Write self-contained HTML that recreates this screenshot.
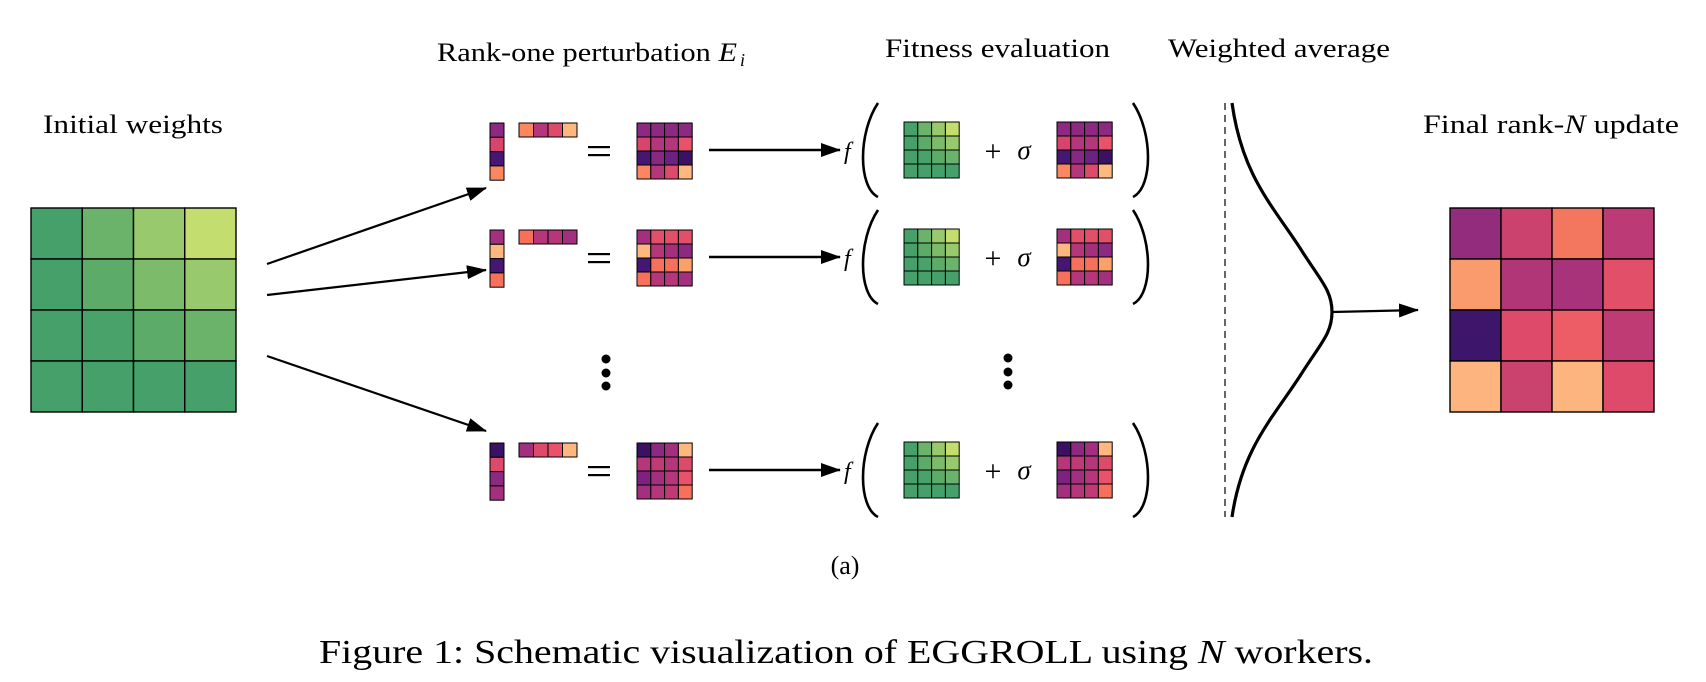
<!DOCTYPE html>
<html><head><meta charset="utf-8"><style>html,body{margin:0;padding:0;background:#fff}svg{display:block}text{font-family:"Liberation Serif",serif;fill:#000}</style></head>
<body>
<svg id="s" width="1706" height="682" viewBox="0 0 1706 682" xmlns="http://www.w3.org/2000/svg">
<defs>
<marker id="ah2" markerWidth="20" markerHeight="14" refX="19" refY="7" orient="auto" markerUnits="userSpaceOnUse" viewBox="0 0 20 14"><path d="M0,0 L20,7 L0,14 z" fill="#000"/></marker></defs>
<text x="43" y="133" font-size="26" textLength="180" lengthAdjust="spacingAndGlyphs">Initial weights</text>
<text x="437" y="61" font-size="26" textLength="300" lengthAdjust="spacingAndGlyphs">Rank-one perturbation <tspan font-style="italic">E</tspan></text>
<text x="740" y="66" font-size="18" font-style="italic">i</text>
<text x="885" y="57" font-size="26" textLength="225" lengthAdjust="spacingAndGlyphs">Fitness evaluation</text>
<text x="1168" y="57" font-size="26" textLength="222" lengthAdjust="spacingAndGlyphs">Weighted average</text>
<text x="1423" y="133" font-size="26" textLength="256" lengthAdjust="spacingAndGlyphs">Final rank-<tspan font-style="italic">N</tspan> update</text>
<text x="845" y="574" font-size="26" text-anchor="middle">(a)</text>
<text x="319" y="663" font-size="34" textLength="1054" lengthAdjust="spacingAndGlyphs">Figure 1: Schematic visualization of EGGROLL using <tspan font-style="italic">N</tspan> workers.</text>
<g stroke="#000" stroke-width="2.2" fill="none">
<line x1="267" y1="264" x2="486" y2="188" marker-end="url(#ah2)"/>
<line x1="267" y1="295" x2="486" y2="270" marker-end="url(#ah2)"/>
<line x1="267" y1="356" x2="486" y2="431" marker-end="url(#ah2)"/>
<line x1="1332" y1="312" x2="1418" y2="310" marker-end="url(#ah2)"/>
<line x1="1225" y1="103" x2="1225" y2="517" stroke-width="1.2" stroke-dasharray="7,5"/>
</g>
<path d="M1232,103 C1242,175 1272,205 1300,248 C1320,280 1332,290 1332,312 C1332,334 1320,344 1300,376 C1272,419 1242,449 1232,517" fill="none" stroke="#000" stroke-width="3.2"/>
<g id="cells"></g>
<g fill="#000">
<circle cx="606" cy="359" r="4.5"/><circle cx="606" cy="373" r="4.5"/><circle cx="606" cy="386" r="4.5"/>
<circle cx="1008" cy="358" r="4.5"/><circle cx="1008" cy="372" r="4.5"/><circle cx="1008" cy="385" r="4.5"/>
</g>
</svg>
<script>
(function(){
var g=document.getElementById('cells'),NS='http://www.w3.org/2000/svg';
function el(t,a){var e=document.createElementNS(NS,t);for(var k in a)e.setAttribute(k,a[k]);g.appendChild(e);return e;}
function grid(x,y,cw,ch,rows,sw){for(var r=0;r<rows.length;r++)for(var c=0;c<rows[r].length;c++)el('rect',{x:x+c*cw,y:y+r*ch,width:cw,height:ch,fill:rows[r][c],stroke:'#000','stroke-width':sw});}
var G=[['#45a06a','#6bb36a','#98c96c','#c3de6f'],['#45a06a','#5dab69','#7bbb6a','#98c96c'],['#45a06a','#48a26a','#5dab69','#6bb36a'],['#45a06a','#45a06a','#45a06a','#45a06a']];
grid(31,208,51.25,51,G,1.4);
grid(1450,208,51,51,[['#932c7c','#cb426e','#f3775f','#bc3a75'],['#f99b6d','#b03677','#a9337a','#e24f69'],['#3d166b','#de4a6a','#ec5d65','#be3b74'],['#fdb47f','#ca426e','#fcb57f','#de4a6a']],1.4);
var rows=[
{y:123,v:['#8c2981','#d8456c','#451773','#fb8761'],h:['#fb8761','#b5367a','#de4a6a','#feb77e'],
 m:[['#8c2981','#8c2981','#8c2981','#8c2981'],['#d8456c','#b5367a','#b5367a','#e9526a'],['#451773','#852982','#6c2283','#3b1163'],['#fb8761','#b5367a','#de4a6a','#feb77e']]},
{y:230,v:['#a3307e','#feb77e','#451773','#f7705c'],h:['#f7705c','#b5367a','#b5367a','#a3307e'],
 m:[['#a3307e','#e24f69','#e24f69','#e24f69'],['#feb77e','#b5367a','#a3307e','#8c2981'],['#451773','#f7705c','#f7705c','#fca06a'],['#f7705c','#b5367a','#b5367a','#a3307e']]},
{y:443,v:['#3b1163','#de4a6a','#8c2981','#a3307e'],h:['#a3307e','#de4a6a','#e9526a','#feb77e'],
 m:[['#3b1163','#8c2981','#a3307e','#feb77e'],['#b5367a','#c03a76','#b5367a','#de4a6a'],['#7c2382','#a3307e','#b5367a','#e9526a'],['#a3307e','#b5367a','#c03a76','#f7705c']]}];
rows.forEach(function(R){
 var y=R.y;
 grid(490,y,14,14.3,R.v.map(function(c){return [c];}),1);
 grid(519,y,14.5,14,[R.h],1);
 el('rect',{x:588,y:y+23,width:22,height:2.2,fill:'#000'});
 el('rect',{x:588,y:y+31,width:22,height:2.2,fill:'#000'});
 grid(637,y,13.8,14,R.m,1);
 el('line',{x1:709,y1:y+27,x2:840,y2:y+27,stroke:'#000','stroke-width':2.4,'marker-end':'url(#ah2)'});
 var t=el('text',{x:844,y:y+36,'font-size':24,'font-style':'italic'});t.textContent='f';
 el('path',{d:'M878,'+(y-20)+' C858,'+(y+10)+' 858,'+(y+64)+' 878,'+(y+74),fill:'none',stroke:'#000','stroke-width':2.6});
 el('path',{d:'M1133,'+(y-20)+' C1153,'+(y+10)+' 1153,'+(y+64)+' 1133,'+(y+74),fill:'none',stroke:'#000','stroke-width':2.6});
 grid(904,y-1,13.8,14,G,1);
 var p=el('text',{x:993,y:y+38,'font-size':30,'text-anchor':'middle'});p.textContent='+';
 var s=el('text',{x:1024,y:y+36,'font-size':27,'font-style':'italic','text-anchor':'middle'});s.textContent='σ';
 grid(1057,y-1,13.8,14,R.m,1);
});
})();
</script>
</body></html>
